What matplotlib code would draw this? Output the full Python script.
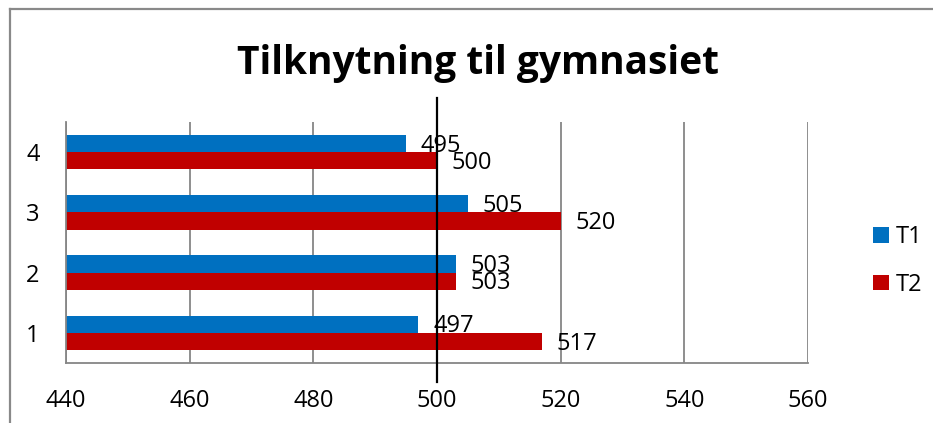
import numpy as np
import matplotlib.pyplot as plt
from matplotlib.lines import Line2D

categories = ["1", "2", "3", "4"]
t1 = [497, 503, 505, 495]
t2 = [517, 503, 520, 500]
series_names = ["T1", "T2"]
x_ticks = [440, 460, 480, 500, 520, 540, 560]

blue = "#0070C0"
red = "#C00000"
grid_col = "#868686"

plt.rcParams['font.family'] = ['Open Sans', 'DejaVu Sans']

W, H = 933, 423
fig = plt.figure(figsize=(W / 100, H / 100), dpi=100)
ax = fig.add_axes([66 / W, 1 - 363 / H, (808 - 66) / W, (363 - 122) / H])

y = np.arange(1, len(categories) + 1)
h = 0.2875
b1 = ax.barh(y + h / 2, t1, height=h, color=blue, label=series_names[0], zorder=2)
b2 = ax.barh(y - h / 2, t2, height=h, color=red, label=series_names[1], zorder=2)

# verdier ved siden av stolpene
for bars, vals in [(b1, t1), (b2, t2)]:
    for bar, v in zip(bars, vals):
        ax.annotate(str(v), (v, bar.get_y() + bar.get_height() / 2),
                    xytext=(10.5, -1.5), textcoords="offset points",
                    va="center", ha="left", fontsize=17, zorder=4)

ax.set_xlim(440, 560)
ax.set_ylim(0.5, 4.5)
ax.set_xticks(x_ticks)
ax.set_yticks(y)
ax.set_yticklabels(categories)
ax.tick_params(axis="x", length=0, pad=18.5, labelsize=17)
ax.tick_params(axis="y", length=0, pad=19, labelsize=17)
ax.grid(axis="x", color=grid_col, linewidth=1.3, zorder=1)
for s in ["top", "right"]:
    ax.spines[s].set_visible(False)
for s in ["left", "bottom"]:
    ax.spines[s].set_color(grid_col)
    ax.spines[s].set_linewidth(1.3)

# svart linje ved 500
ax.plot([500, 500], [4.5 + (122 - 98) / 60.25, 0.5 - (382 - 363) / 60.25],
        color="black", linewidth=1.6, clip_on=False, zorder=3)

leg = fig.legend(handles=[b1, b2], loc="center left",
                 bbox_to_anchor=(852 / W, 1 - 261 / H), frameon=False,
                 fontsize=17, handlelength=0.65, handleheight=0.65,
                 handletextpad=0.3, labelspacing=1.0)

fig.text(478 / W, 1 - 74 / H, "Tilknytning til gymnasiet", ha="center",
         va="baseline", fontsize=28, fontweight="bold")

# ramme rundt diagrammet
fig.add_artist(Line2D([10 / W, 1], [1 - 9 / H, 1 - 9 / H], color="#898989", linewidth=1.6))
fig.add_artist(Line2D([10 / W, 10 / W], [0, 1 - 9 / H], color="#898989", linewidth=1.6))

fig.savefig("out.png", dpi=100)
